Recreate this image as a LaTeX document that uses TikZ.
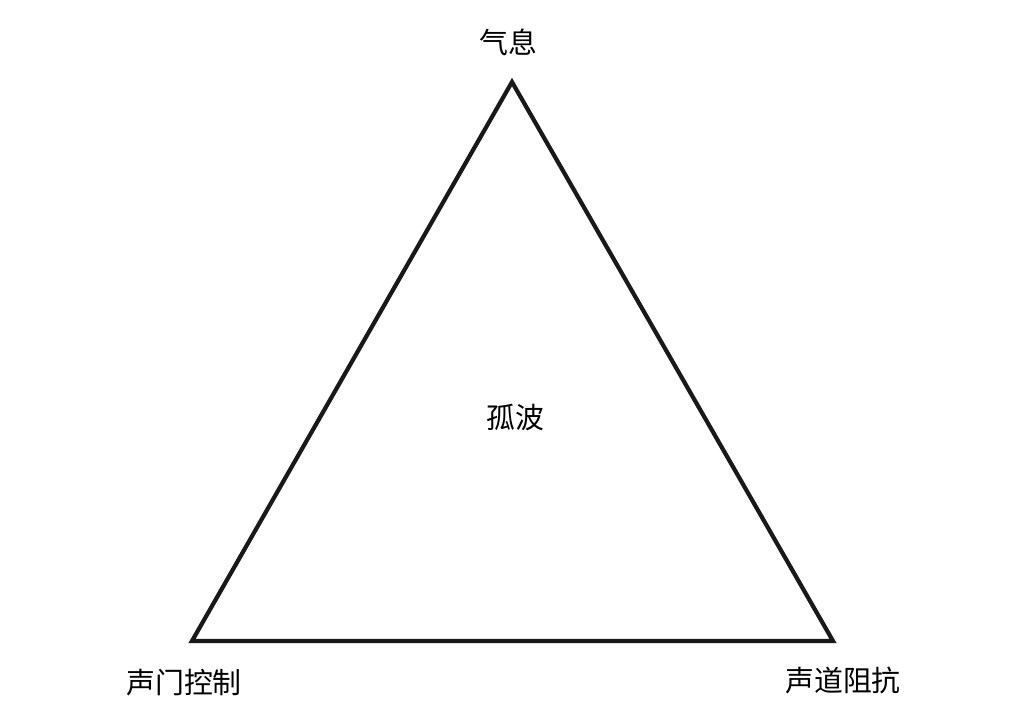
\documentclass[tikz,border=0pt]{standalone}
\usepackage{fontspec}
\newfontfamily\cjk{Noto Sans CJK SC}
\usetikzlibrary{positioning}
\tikzstyle{corner} = [inner sep=0pt, font=\cjk\fontsize{29}{33}\selectfont]
\tikzstyle{edge} = [line width=4.2bp, line join=miter, draw=black!90]

\begin{document}
\begin{tikzpicture}[x=1bp, y=-1bp]
\useasboundingbox (0,0) rectangle (1029,716);
% Corners of the triangle
\coordinate (breath) at (512,82);
\coordinate (glottis) at (192,641);
\coordinate (tract) at (833,641);
\draw[edge] (breath) -- (glottis) -- (tract) -- cycle;

% Labels
\node[corner] (top) at (508,42) {气息};
\node[corner] (mid) at (515,418) {孤波};
\node[corner] (left) at (184,683) {声门控制};
\node[corner] (right) at (843,680) {声道阻抗};
\end{tikzpicture}
\end{document}
